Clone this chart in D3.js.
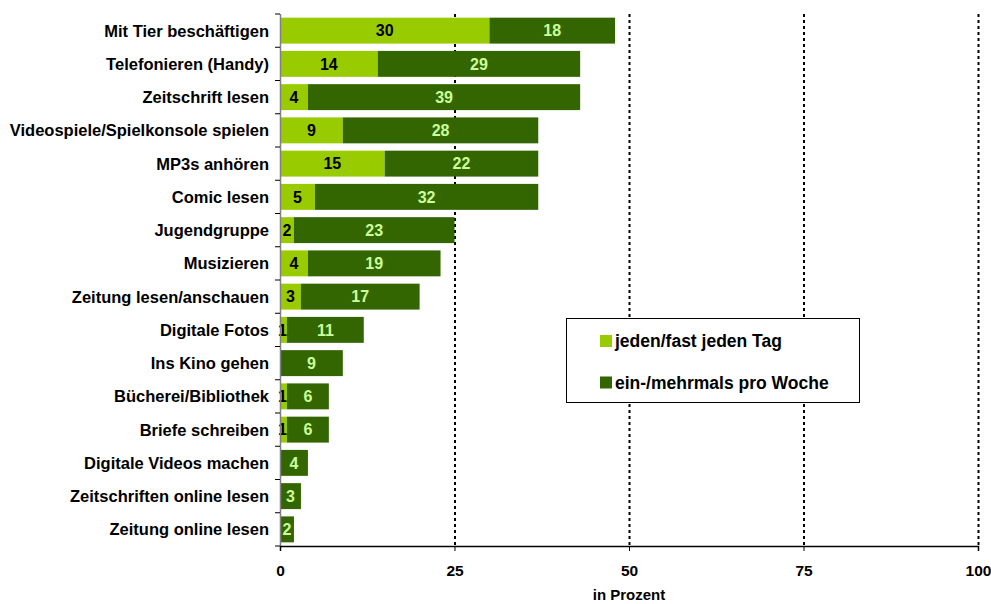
<!DOCTYPE html>
<html><head><meta charset="utf-8">
<script src="https://cdn.jsdelivr.net/npm/d3@7"></script>
<style>body{margin:0;background:#fff}svg{display:block;font-family:"Liberation Sans",Arial,sans-serif;font-weight:bold}</style>
</head><body><svg id="c" width="991" height="604"></svg>
<script>
const categories = ["Mit Tier beschäftigen","Telefonieren (Handy)","Zeitschrift lesen","Videospiele/Spielkonsole spielen","MP3s anhören","Comic lesen","Jugendgruppe","Musizieren","Zeitung lesen/anschauen","Digitale Fotos","Ins Kino gehen","Bücherei/Bibliothek","Briefe schreiben","Digitale Videos machen","Zeitschriften online lesen","Zeitung online lesen"];
const daily = [30,14,4,9,15,5,2,4,3,1,0,1,1,0,0,0];
const weekly = [18,29,39,28,22,32,23,19,17,11,9,6,6,4,3,2];
const seriesNames = ["jeden/fast jeden Tag","ein-/mehrmals pro Woche"];
const xTicks = [0,25,50,75,100];
const axisTitle = "in Prozent";

const svg = d3.select("#c");
const m = {l:280, r:978, t:14, b:546};
const x = d3.scaleLinear().domain([0,100]).range([m.l, m.r]);
const y = d3.scaleBand().domain(categories).range([m.t, m.b]).paddingInner(0.22).paddingOuter(0.11);
const colors = ["#99cc00","#336600"];

// gridlines
svg.append("g").selectAll("line").data(xTicks.filter(d=>d>0)).join("line")
  .attr("x1",d=>x(d)+0.5).attr("x2",d=>x(d)+0.5).attr("y1",m.t).attr("y2",m.b)
  .attr("stroke","#000").attr("stroke-width",2).attr("stroke-dasharray","3,3");

// bars
const rows = categories.map((c,i)=>({c, a:daily[i], b:weekly[i]}));
const g = svg.append("g");
g.selectAll(".a").data(rows).join("rect")
  .attr("x",x(0)).attr("y",d=>y(d.c)).attr("width",d=>x(d.a)-x(0)).attr("height",y.bandwidth()).attr("fill",colors[0]);
g.selectAll(".b").data(rows).join("rect")
  .attr("x",d=>x(d.a)).attr("y",d=>y(d.c)).attr("width",d=>x(d.a+d.b)-x(d.a)).attr("height",y.bandwidth()).attr("fill",colors[1]);
g.selectAll(".ta").data(rows.filter(d=>d.a>0)).join("text")
  .attr("x",d=>x(d.a/2)+(d.a===1?-1:0)).attr("y",d=>y(d.c)+y.bandwidth()/2).attr("dy","0.36em")
  .attr("text-anchor","middle").attr("font-size",16).attr("fill","#000").text(d=>d.a);
g.selectAll(".tb").data(rows).join("text")
  .attr("x",d=>x(d.a+d.b/2)).attr("y",d=>y(d.c)+y.bandwidth()/2).attr("dy","0.36em")
  .attr("text-anchor","middle").attr("font-size",16).attr("fill","#ccff99").text(d=>d.b);

// left axis
const step = (m.b-m.t)/categories.length;
svg.append("line").attr("x1",m.l+0.5).attr("x2",m.l+0.5).attr("y1",m.t).attr("y2",m.b).attr("stroke","#808080").attr("stroke-width",1.5);
svg.append("g").selectAll("line").data(d3.range(categories.length+1)).join("line")
  .attr("x1",m.l-5).attr("x2",m.l).attr("y1",d=>m.t+d*step).attr("y2",d=>m.t+d*step).attr("stroke","#000");
svg.append("g").selectAll("text").data(categories).join("text")
  .attr("x",269).attr("y",d=>y(d)+y.bandwidth()/2).attr("dy","0.36em").attr("text-anchor","end")
  .attr("font-size",16.5).attr("fill","#000").text(d=>d);

// bottom axis
const xa = svg.append("g").attr("transform",`translate(0,${m.b})`)
  .call(d3.axisBottom(x).tickValues(xTicks).tickSize(5).tickPadding(14).tickFormat(d3.format("d")));
xa.select(".domain").attr("stroke","#000").attr("stroke-width",1.5);
xa.selectAll("text").attr("font-size",15.5).attr("font-family","Liberation Sans, Arial").attr("font-weight","bold").attr("fill","#000");
svg.append("text").attr("x",x(50)).attr("y",600).attr("text-anchor","middle").attr("font-size",15).text(axisTitle);

// legend
const lg = svg.append("g");
lg.append("rect").attr("x",566.5).attr("y",318.5).attr("width",293).attr("height",84).attr("fill","#fff").attr("stroke","#000");
seriesNames.forEach((n,i)=>{
  lg.append("rect").attr("x",600).attr("y",335+i*41.5).attr("width",12).attr("height",12).attr("fill",colors[i]);
  lg.append("text").attr("x",615).attr("y",341+i*41.5).attr("dy","0.36em").attr("font-size",17.5).text(n);
});
</script></body></html>
